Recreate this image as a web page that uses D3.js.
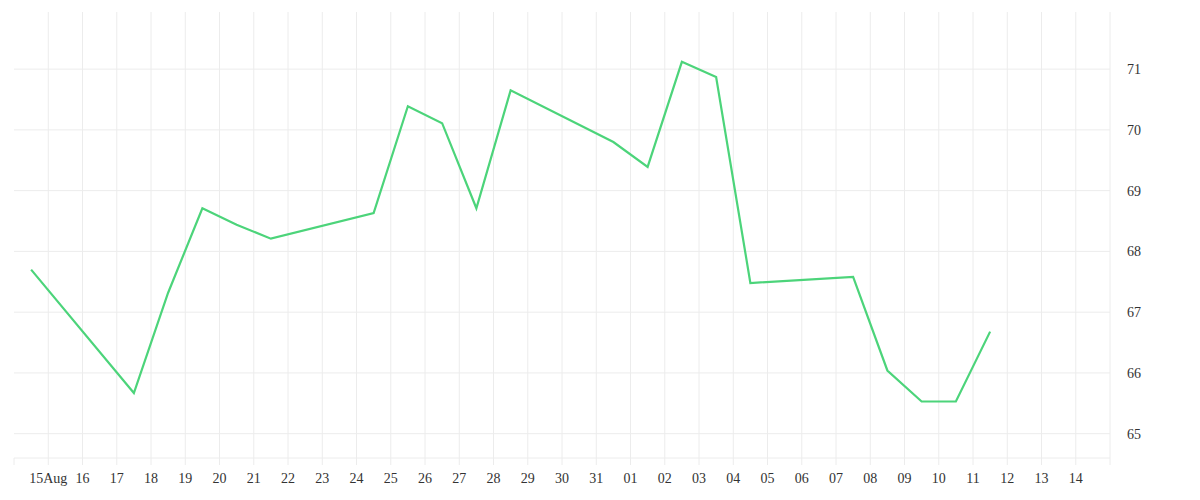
<!DOCTYPE html>
<html><head><meta charset="utf-8">
<script src="https://cdn.jsdelivr.net/npm/d3@7"></script>
<style>body{margin:0;background:#fff}text{font-family:"Liberation Serif",serif;font-size:14px;fill:#333}</style>
</head><body><svg id="c" width="1200" height="500"></svg>
<script>
const dates = ["2023-08-14","2023-08-17","2023-08-18","2023-08-19","2023-08-20","2023-08-21","2023-08-24","2023-08-25","2023-08-26","2023-08-27","2023-08-28","2023-08-31","2023-09-01","2023-09-02","2023-09-03","2023-09-04","2023-09-07","2023-09-08","2023-09-09","2023-09-10","2023-09-11"];
const values = [67.70,65.67,67.32,68.71,68.44,68.21,68.63,70.39,70.11,68.71,70.65,69.80,69.39,71.12,70.87,67.48,67.58,66.04,65.53,65.53,66.68];
const yTicks = [65,66,67,68,69,70,71];

const svg = d3.select("#c");
const L=14,R=1110,T=12,B=458;
const parse = d3.utcParse("%Y-%m-%d");
const data = dates.map((d,i)=>({t:new Date(parse(d).getTime()+12*3600e3), v:values[i]}));
const x = d3.scaleUtc().domain([parse("2023-08-14"), parse("2023-09-15")]).range([L,R]);
const y = d3.scaleLinear().domain([64.6,71.94]).range([B,T]);
const xt = d3.utcDay.range(parse("2023-08-15"), parse("2023-09-15"));

const g = svg.append("g");
g.selectAll(".vg").data(xt).join("line").attr("x1",d=>x(d)).attr("x2",d=>x(d)).attr("y1",T).attr("y2",B+7).attr("stroke","#ececec");
g.append("line").attr("x1",L).attr("x2",L).attr("y1",B).attr("y2",B+7).attr("stroke","#ececec");
g.selectAll(".hg").data(yTicks).join("line").attr("x1",L).attr("x2",R).attr("y1",d=>y(d)).attr("y2",d=>y(d)).attr("stroke","#ececec");
g.append("line").attr("x1",L).attr("x2",R).attr("y1",B).attr("y2",B).attr("stroke","#ececec");
g.append("line").attr("x1",R).attr("x2",R).attr("y1",T).attr("y2",B+7).attr("stroke","#ececec");

g.selectAll(".xl").data(xt).join("text").attr("x",d=>x(d)).attr("y",B+25).attr("text-anchor","middle")
 .text((d,i)=> i===0 ? d3.utcFormat("%d")(d)+d3.utcFormat("%b")(d) : d3.utcFormat("%d")(d));
g.selectAll(".yl").data(yTicks).join("text").attr("x",R+17).attr("y",d=>y(d)+5).text(d=>d);

svg.append("path").datum(data).attr("fill","none").attr("stroke","#4cd47a").attr("stroke-width",2.2)
 .attr("d", d3.line().x(d=>x(d.t)).y(d=>y(d.v)));
</script></body></html>
